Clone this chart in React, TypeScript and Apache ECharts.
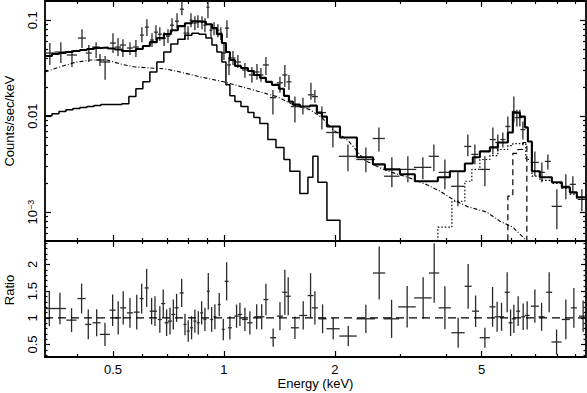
import React, { useEffect, useRef } from "react";
import * as echarts from "echarts";

// ---------- axis ranges and ticks ----------
const energyRange = [0.327, 9.6]; // keV
const countRange = [5.01e-4, 0.1585]; // counts/sec/keV
const ratioRange = [0.265, 2.44];

const energyMajorTicks = [0.5, 1, 2, 5];
const energyMinorTicks = [0.4, 0.6, 0.7, 0.8, 0.9, 3, 4, 6, 7, 8, 9];
const countMajorTicks = [0.1, 0.01, 0.001];
const countMinorTicks = [6e-4, 7e-4, 8e-4, 9e-4, 2e-3, 3e-3, 4e-3, 5e-3, 6e-3, 7e-3, 8e-3, 9e-3, 0.02, 0.03, 0.04, 0.05, 0.06, 0.07, 0.08, 0.09];
const ratioMajorTicks = [0.5, 1, 1.5, 2];
const ratioMinorTicks = [0.3, 0.4, 0.6, 0.7, 0.8, 0.9, 1.1, 1.2, 1.3, 1.4, 1.6, 1.7, 1.8, 1.9, 2.1, 2.2, 2.3, 2.4];

// ---------- observed spectrum (top panel) ----------
const specE = [0.337, 0.361, 0.387, 0.412, 0.430, 0.450, 0.461, 0.476, 0.500, 0.516, 0.532, 0.556, 0.577, 0.599, 0.618, 0.638, 0.654, 0.670, 0.688, 0.705, 0.723, 0.746, 0.769, 0.784, 0.799, 0.814, 0.834, 0.850, 0.872, 0.888, 0.905, 0.922, 0.940, 0.963, 0.981, 1.000, 1.019, 1.032, 1.058, 1.091, 1.140, 1.191, 1.229, 1.260, 1.300, 1.358, 1.419, 1.463, 1.501, 1.558, 1.638, 1.722, 1.765, 1.844, 1.975, 2.170, 2.427, 2.633, 2.855, 3.155, 3.465, 3.712, 3.976, 4.312, 4.589, 4.795, 5.105, 5.365, 5.535, 5.710, 5.892, 6.117, 6.233, 6.351, 6.471, 6.975, 7.287, 7.565, 8.002, 8.464, 8.843, 9.354];
const specDE = [0.0107, 0.0137, 0.0123, 0.0104, 0.0081, 0.0114, 0.0117, 0.0151, 0.0094, 0.0098, 0.0101, 0.0105, 0.0109, 0.0075, 0.0078, 0.0080, 0.0082, 0.0084, 0.0087, 0.0089, 0.0091, 0.0094, 0.0097, 0.0074, 0.0075, 0.0077, 0.0078, 0.0080, 0.0082, 0.0083, 0.0085, 0.0087, 0.0088, 0.0090, 0.0092, 0.0126, 0.0128, 0.0130, 0.0166, 0.0206, 0.0215, 0.0225, 0.0193, 0.0198, 0.0246, 0.0257, 0.0268, 0.0230, 0.0236, 0.0394, 0.0414, 0.0325, 0.0334, 0.0467, 0.0818, 0.118, 0.1405, 0.100, 0.137, 0.172, 0.189, 0.1177, 0.151, 0.1785, 0.101, 0.1055, 0.162, 0.101, 0.0869, 0.0897, 0.0925, 0.077, 0.0785, 0.080, 0.1016, 0.1765, 0.138, 0.143, 0.254, 0.214, 0.167, 0.237];
const specRate = [0.0455, 0.0466, 0.0434, 0.0651, 0.0455, 0.0525, 0.0385, 0.0367, 0.0578, 0.0525, 0.0551, 0.0513, 0.0525, 0.0699, 0.0846, 0.0621, 0.0751, 0.0716, 0.0651, 0.0683, 0.0888, 0.0976, 0.130, 0.0733, 0.0733, 0.100, 0.0931, 0.0953, 0.0953, 0.0888, 0.1364, 0.0787, 0.0827, 0.0787, 0.0733, 0.0455, 0.0827, 0.0342, 0.0404, 0.0367, 0.0303, 0.0269, 0.0289, 0.0269, 0.0342, 0.0156, 0.0223, 0.0269, 0.0228, 0.0126, 0.0126, 0.0167, 0.0160, 0.0109, 0.00676, 0.00382, 0.00354, 0.00586, 0.00237, 0.00279, 0.00293, 0.00382, 0.00260, 0.00186, 0.00484, 0.00400, 0.00279, 0.00571, 0.00532, 0.00571, 0.00782, 0.0112, 0.00967, 0.00967, 0.00725, 0.00330, 0.00260, 0.00338, 0.00115, 0.00186, 0.00195, 0.00136];
const specRateLo = [0.0342, 0.0359, 0.0326, 0.0513, 0.0367, 0.0404, 0.0334, 0.0239, 0.0455, 0.0424, 0.0414, 0.0434, 0.0414, 0.0591, 0.0683, 0.0525, 0.0621, 0.0606, 0.0538, 0.0578, 0.0751, 0.0827, 0.1127, 0.0621, 0.0621, 0.0846, 0.0787, 0.0827, 0.0807, 0.0751, 0.1049, 0.0666, 0.0699, 0.0666, 0.0621, 0.0385, 0.0651, 0.0269, 0.0342, 0.0318, 0.0251, 0.0223, 0.0239, 0.0228, 0.0269, 0.0104, 0.0176, 0.0202, 0.0188, 0.00858, 0.0104, 0.0148, 0.0138, 0.00725, 0.00473, 0.00267, 0.00260, 0.00430, 0.00182, 0.00205, 0.00220, 0.00267, 0.00173, 0.00115, 0.00382, 0.00315, 0.00186, 0.00400, 0.00430, 0.00473, 0.00615, 0.00858, 0.00782, 0.00782, 0.00571, 0.00237, 0.00205, 0.00279, 0.000666, 0.00136, 0.00161, 0.00102];
const specRateHi = [0.0578, 0.0591, 0.0489, 0.0807, 0.0551, 0.0591, 0.0444, 0.0424, 0.0733, 0.0651, 0.0635, 0.0591, 0.0621, 0.0846, 0.1024, 0.0733, 0.0888, 0.0846, 0.0751, 0.0807, 0.1049, 0.1182, 0.17, 0.0888, 0.0867, 0.1182, 0.110, 0.1127, 0.110, 0.1049, 0.17, 0.0909, 0.0953, 0.0909, 0.0846, 0.0564, 0.100, 0.0414, 0.0477, 0.0434, 0.0359, 0.0326, 0.0350, 0.0318, 0.0414, 0.0188, 0.0257, 0.0342, 0.0269, 0.0160, 0.0156, 0.0223, 0.0188, 0.0126, 0.00782, 0.00507, 0.00473, 0.00764, 0.00373, 0.00382, 0.00373, 0.00507, 0.00354, 0.00260, 0.00644, 0.00507, 0.00382, 0.00764, 0.00644, 0.00676, 0.00990, 0.0160, 0.0117, 0.0117, 0.00878, 0.00430, 0.00330, 0.00400, 0.00173, 0.00248, 0.00237, 0.00173];

// ---------- ratio data / model (bottom panel) ----------
const ratioE = [0.336, 0.359, 0.386, 0.411, 0.4285, 0.4516, 0.4756, 0.499, 0.5166, 0.533, 0.556, 0.580, 0.598, 0.617, 0.6365, 0.650, 0.670, 0.6844, 0.699, 0.714, 0.729, 0.744, 0.768, 0.784, 0.800, 0.817, 0.834, 0.852, 0.870, 0.888, 0.907, 0.926, 0.945, 0.971, 0.996, 1.017, 1.038, 1.082, 1.105, 1.140, 1.176, 1.227, 1.266, 1.300, 1.360, 1.419, 1.463, 1.494, 1.558, 1.641, 1.718, 1.765, 1.852, 1.979, 2.174, 2.427, 2.638, 2.850, 3.141, 3.471, 3.719, 3.976, 4.320, 4.598, 4.817, 5.105, 5.355, 5.510, 5.664, 5.867, 5.993, 6.117, 6.284, 6.484, 6.647, 6.975, 7.274, 7.627, 7.988, 8.464, 8.899, 9.430];
const ratioDE = [0.0107, 0.0137, 0.0123, 0.0104, 0.0081, 0.0114, 0.0151, 0.0094, 0.0098, 0.0101, 0.0105, 0.0109, 0.0075, 0.0078, 0.0080, 0.0082, 0.0084, 0.0087, 0.0089, 0.0091, 0.0093, 0.0095, 0.0097, 0.0074, 0.0075, 0.0077, 0.0078, 0.0080, 0.0082, 0.0083, 0.0085, 0.0087, 0.0088, 0.0090, 0.0092, 0.0126, 0.0128, 0.015, 0.015, 0.020, 0.020, 0.020, 0.020, 0.020, 0.025, 0.027, 0.023, 0.0236, 0.039, 0.041, 0.0325, 0.033, 0.047, 0.082, 0.118, 0.140, 0.100, 0.137, 0.172, 0.189, 0.118, 0.151, 0.178, 0.101, 0.105, 0.162, 0.101, 0.087, 0.090, 0.090, 0.075, 0.077, 0.078, 0.080, 0.100, 0.176, 0.138, 0.143, 0.254, 0.214, 0.167, 0.237];
const ratioVal = [1.174, 1.174, 0.956, 1.361, 0.876, 0.907, 0.689, 1.143, 1.000, 1.187, 1.093, 1.106, 1.361, 1.560, 1.124, 1.124, 0.969, 1.267, 0.907, 0.938, 1.062, 1.187, 1.466, 0.876, 0.751, 0.813, 0.938, 0.907, 1.093, 0.969, 1.498, 0.969, 1.019, 1.249, 0.782, 1.684, 0.813, 1.031, 1.062, 0.969, 0.907, 1.019, 1.019, 1.342, 0.627, 1.031, 1.479, 1.404, 0.813, 1.044, 1.417, 1.187, 0.981, 0.795, 0.658, 0.981, 1.840, 0.981, 1.205, 1.373, 1.840, 1.187, 0.720, 1.591, 1.124, 0.627, 1.205, 1.019, 1.019, 1.479, 0.907, 0.981, 1.124, 1.019, 1.044, 1.218, 1.019, 1.479, 0.546, 0.969, 1.187, 1.031];
const ratioErr = [0.327, 0.295, 0.224, 0.280, 0.280, 0.255, 0.218, 0.295, 0.311, 0.311, 0.280, 0.327, 0.280, 0.358, 0.249, 0.280, 0.249, 0.264, 0.249, 0.249, 0.280, 0.264, 0.264, 0.202, 0.202, 0.218, 0.218, 0.218, 0.218, 0.218, 0.342, 0.233, 0.233, 0.218, 0.202, 0.358, 0.218, 0.218, 0.218, 0.218, 0.218, 0.233, 0.233, 0.295, 0.171, 0.264, 0.420, 0.358, 0.211, 0.264, 0.420, 0.311, 0.270, 0.202, 0.193, 0.264, 0.498, 0.358, 0.389, 0.389, 0.560, 0.404, 0.280, 0.420, 0.295, 0.187, 0.373, 0.280, 0.264, 0.373, 0.249, 0.264, 0.280, 0.249, 0.264, 0.311, 0.264, 0.373, 0.233, 0.373, 0.373, 0.295];
const ratioReference = 1;

// ---------- model components (step histograms, keV edges) ----------
const totalEdges = [0.327, 0.3416, 0.3568, 0.3727, 0.3894, 0.4068, 0.4249, 0.4439, 0.4637, 0.4844, 0.506, 0.5286, 0.5522, 0.5769, 0.6026, 0.6295, 0.6576, 0.687, 0.7177, 0.7498, 0.7836, 0.8187, 0.8553, 0.8936, 0.9279, 0.957, 0.9876, 1.0125, 1.038, 1.071, 1.112, 1.162, 1.206, 1.252, 1.300, 1.350, 1.410, 1.455, 1.501, 1.539, 1.607, 1.711, 1.787, 1.844, 1.903, 2.064, 2.295, 2.536, 2.733, 3.002, 3.296, 3.805, 4.102, 4.504, 4.734, 4.947, 5.266, 5.535, 5.892, 6.078, 6.351, 6.553, 6.677, 6.846, 7.196, 7.756, 8.255, 8.679, 9.066, 9.65];
const totalVals = [0.0424, 0.0444, 0.0455, 0.0466, 0.0477, 0.0489, 0.0501, 0.0513, 0.0519, 0.0507, 0.0495, 0.0477, 0.0477, 0.0501, 0.0538, 0.0591, 0.0651, 0.0716, 0.0787, 0.0867, 0.0931, 0.0976, 0.0965, 0.0909, 0.0827, 0.0716, 0.0578, 0.0466, 0.0385, 0.0334, 0.0318, 0.0296, 0.0269, 0.0251, 0.0228, 0.0212, 0.0193, 0.0163, 0.0142, 0.0132, 0.0126, 0.0129, 0.0109, 0.0099, 0.00782, 0.00599, 0.00373, 0.00315, 0.00279, 0.00248, 0.0021, 0.00231, 0.00267, 0.00322, 0.00373, 0.0043, 0.00473, 0.00532, 0.00676, 0.0109, 0.0099, 0.00764, 0.00545, 0.00267, 0.00231, 0.00205, 0.00182, 0.00161, 0.00143];

const softEdges = [0.327, 0.3416, 0.3568, 0.3727, 0.3894, 0.4068, 0.4249, 0.4439, 0.4637, 0.4844, 0.506, 0.5286, 0.5522, 0.5769, 0.6026, 0.6295, 0.6576, 0.687, 0.7177, 0.7498, 0.7836, 0.8187, 0.8553, 0.8936, 0.9279, 0.957, 0.9876, 1.0125, 1.038, 1.071, 1.112, 1.162, 1.206, 1.252, 1.316, 1.384, 1.455, 1.510, 1.607, 1.690, 1.743, 1.799, 1.903, 2.064];
const softVals = [0.0101, 0.0106, 0.0112, 0.0117, 0.0120, 0.0123, 0.0126, 0.0129, 0.0132, 0.0132, 0.0132, 0.0135, 0.0160, 0.0193, 0.0228, 0.0289, 0.0367, 0.0466, 0.0564, 0.0635, 0.0699, 0.0733, 0.0716, 0.0651, 0.0551, 0.0466, 0.0367, 0.0212, 0.0163, 0.0142, 0.0126, 0.0109, 0.00967, 0.0084, 0.00571, 0.00473, 0.00354, 0.00267, 0.00157, 0.00231, 0.00382, 0.00205, 0.000826];

const contE = [0.327, 0.359, 0.3894, 0.433, 0.4816, 0.523, 0.5737, 0.630, 0.692, 0.760, 0.861, 1.0, 1.198, 1.392, 1.539, 1.711, 1.844, 1.975, 2.170, 2.413, 2.633, 2.855, 3.155, 3.531, 3.853, 4.179, 4.561, 5.168, 5.606, 6.078, 6.553, 6.975];
const contRate = [0.0289, 0.0326, 0.0359, 0.0385, 0.0385, 0.035, 0.0326, 0.0318, 0.0311, 0.0289, 0.0257, 0.0228, 0.0188, 0.016, 0.0132, 0.0117, 0.00967, 0.00725, 0.00558, 0.00346, 0.00293, 0.0026, 0.00231, 0.00195, 0.00166, 0.00136, 0.00115, 0.001, 0.000807, 0.000699, 0.000525, 0.000414];

const reflEdges = [3.805, 4.153, 4.504, 4.705, 4.947, 5.266, 5.535, 5.892, 6.078, 6.593, 6.846, 7.196, 7.756, 8.255, 8.679, 9.066, 9.65];
const reflVals = [0.000699, 0.0013, 0.0021, 0.00279, 0.00354, 0.00389, 0.0045, 0.00494, 0.00518, 0.00354, 0.00237, 0.00215, 0.002, 0.00178, 0.00154, 0.00136];

const feEdges = [5.892, 6.078, 6.272, 6.471, 6.634];
const feVals = [0.00147, 0.0041, 0.0045, 0.00532];

// ---------- helpers ----------
const lg = (v: number) => Math.log10(v);
const FLOOR = -6;
const FONT = '"Liberation Sans", Arial, Helvetica, sans-serif';
const INK = "#000";

function stepPoints(edges: number[], vals: number[], fromFloor: boolean, toFloor: boolean) {
  const pts: number[][] = [];
  if (fromFloor) pts.push([lg(edges[0]), FLOOR]);
  for (let i = 0; i < vals.length; i++) {
    pts.push([lg(edges[i]), lg(vals[i])]);
    pts.push([lg(edges[i + 1]), lg(vals[i])]);
  }
  if (toFloor) pts.push([lg(edges[edges.length - 1]), FLOOR]);
  return pts;
}

const X0 = lg(energyRange[0]);
const X1 = lg(energyRange[1]);

function xAxisDef(gridIndex: number, position: string, ticks: number[], len: number, showLine: boolean, labels = false, name = "") {
  return {
    type: "value",
    gridIndex,
    position,
    min: X0,
    max: X1,
    name,
    nameLocation: "middle",
    nameGap: 20,
    nameTextStyle: { color: INK, fontSize: 13, fontFamily: FONT },
    axisLine: { show: showLine, onZero: false, lineStyle: { color: INK, width: 1.8 } },
    axisTick: { show: true, inside: true, length: len, customValues: ticks.map(lg), lineStyle: { color: INK, width: 1.2 } },
    axisLabel: labels
      ? {
          show: true,
          customValues: ticks.map(lg),
          margin: 6,
          color: INK,
          fontSize: 13,
          fontFamily: FONT,
          formatter: (v: number) => String(Math.round(Math.pow(10, v) * 10) / 10),
        }
      : { show: false },
    splitLine: { show: false },
  };
}

function yAxisDef(
  gridIndex: number,
  position: string,
  min: number,
  max: number,
  ticks: number[],
  len: number,
  showLine: boolean,
  labelFmt: ((v: number) => string) | null = null,
  name = "",
  namePad: number[] = [0, 0, 0, 0]
) {
  return {
    type: "value",
    gridIndex,
    position,
    min,
    max,
    name,
    nameLocation: "middle",
    nameGap: 29,
    nameTextStyle: { color: INK, fontSize: 13, fontFamily: FONT, padding: namePad },
    axisLine: { show: showLine, onZero: false, lineStyle: { color: INK, width: 1.8 } },
    axisTick: { show: true, inside: true, length: len, customValues: ticks, lineStyle: { color: INK, width: 1.2 } },
    axisLabel: labelFmt
      ? {
          show: true,
          customValues: ticks,
          rotate: 90,
          margin: 6,
          color: INK,
          fontSize: 13,
          fontFamily: FONT,
          formatter: labelFmt,
          rich: { sup: { fontSize: 9, verticalAlign: "top", color: INK, fontFamily: FONT } },
        }
      : { show: false },
    splitLine: { show: false },
  };
}

function errorBarSeries(data: number[][], xAxisIndex: number, yAxisIndex: number) {
  return {
    type: "custom",
    xAxisIndex,
    yAxisIndex,
    clip: true,
    silent: true,
    data,
    renderItem: (_p: any, api: any) => {
      const xc = api.value(0), yc = api.value(1);
      const a = api.coord([api.value(2), yc]);
      const b = api.coord([api.value(3), yc]);
      const c = api.coord([xc, api.value(4)]);
      const d = api.coord([xc, api.value(5)]);
      const st = { stroke: "#2a2a2a", lineWidth: 1.3 };
      return {
        type: "group",
        children: [
          { type: "line", shape: { x1: a[0], y1: a[1], x2: b[0], y2: b[1] }, style: st },
          { type: "line", shape: { x1: c[0], y1: c[1], x2: d[0], y2: d[1] }, style: st },
        ],
      };
    },
  };
}

function modelLine(data: number[][], width: number, type: any) {
  return {
    type: "line",
    xAxisIndex: 0,
    yAxisIndex: 0,
    data,
    showSymbol: false,
    symbol: "none",
    clip: true,
    silent: true,
    lineStyle: { color: INK, width, type },
  };
}

function buildOption() {
  const C0 = lg(countRange[0]);
  const C1 = lg(countRange[1]);
  const specData = specE.map((e, i) => [lg(e), lg(specRate[i]), lg(e - specDE[i]), lg(e + specDE[i]), lg(specRateLo[i]), lg(specRateHi[i])]);
  const ratioData = ratioE.map((e, i) => [lg(e), ratioVal[i], lg(e - ratioDE[i]), lg(e + ratioDE[i]), ratioVal[i] - ratioErr[i], ratioVal[i] + ratioErr[i]]);
  const countFmt = (v: number) => (v > -1.5 ? "0.1" : v > -2.5 ? "0.01" : "10{sup|\u22123}");
  const ratioFmt = (v: number) => String(v);

  return {
    animation: false,
    backgroundColor: "#fff",
    textStyle: { fontFamily: FONT },
    grid: [
      { left: 45, top: 1, width: 541, height: 240, outerBoundsMode: "none", containLabel: false },
      { left: 45, top: 241, width: 541, height: 116, outerBoundsMode: "none", containLabel: false },
    ],
    xAxis: [
      xAxisDef(0, "bottom", energyMajorTicks, 6, true),
      xAxisDef(0, "bottom", energyMinorTicks, 3, false),
      xAxisDef(0, "top", energyMajorTicks, 6, true),
      xAxisDef(0, "top", energyMinorTicks, 3, false),
      xAxisDef(1, "bottom", energyMajorTicks, 6, true, true, "Energy (keV)"),
      xAxisDef(1, "bottom", energyMinorTicks, 3, false),
      xAxisDef(1, "top", energyMajorTicks, 6, true),
      xAxisDef(1, "top", energyMinorTicks, 3, false),
    ],
    yAxis: [
      yAxisDef(0, "left", C0, C1, countMajorTicks.map(lg), 6, true, countFmt, "Counts/sec/keV"),
      yAxisDef(0, "left", C0, C1, countMinorTicks.map(lg), 3, false),
      yAxisDef(0, "right", C0, C1, countMajorTicks.map(lg), 6, true),
      yAxisDef(0, "right", C0, C1, countMinorTicks.map(lg), 3, false),
      yAxisDef(1, "left", ratioRange[0], ratioRange[1], ratioMajorTicks, 5, true, ratioFmt, "Ratio", [0, 0, 0, 18]),
      yAxisDef(1, "left", ratioRange[0], ratioRange[1], ratioMinorTicks, 2.5, false),
      yAxisDef(1, "right", ratioRange[0], ratioRange[1], ratioMajorTicks, 5, true),
      yAxisDef(1, "right", ratioRange[0], ratioRange[1], ratioMinorTicks, 2.5, false),
    ],
    series: [
      modelLine(contE.map((e, i) => [lg(e), lg(contRate[i])]), 1.1, [4, 2, 1, 2]),
      modelLine(stepPoints(reflEdges, reflVals, true, false), 1.2, [1.5, 2]),
      modelLine(stepPoints(feEdges, feVals, true, true), 1.2, [6, 4]),
      modelLine(stepPoints(softEdges, softVals, false, true), 1.5, "solid"),
      modelLine(stepPoints(totalEdges, totalVals, false, false), 2.1, "solid"),
      errorBarSeries(specData, 0, 0),
      {
        type: "line",
        xAxisIndex: 4,
        yAxisIndex: 4,
        data: [[X0, ratioReference], [X1, ratioReference]],
        showSymbol: false,
        symbol: "none",
        silent: true,
        lineStyle: { color: INK, width: 1.2, type: [8, 5] },
      },
      errorBarSeries(ratioData, 4, 4),
    ],
  };
}

export default function App() {
  const ref = useRef<HTMLDivElement>(null);
  useEffect(() => {
    if (!ref.current) return;
    const chart = echarts.init(ref.current, null, { renderer: "svg" });
    chart.setOption(buildOption() as any);
    return () => chart.dispose();
  }, []);
  return (
    <div
      ref={ref}
      style={{ position: "fixed", left: 0, top: 0, width: 587, height: 393, background: "#fff" }}
    />
  );
}
